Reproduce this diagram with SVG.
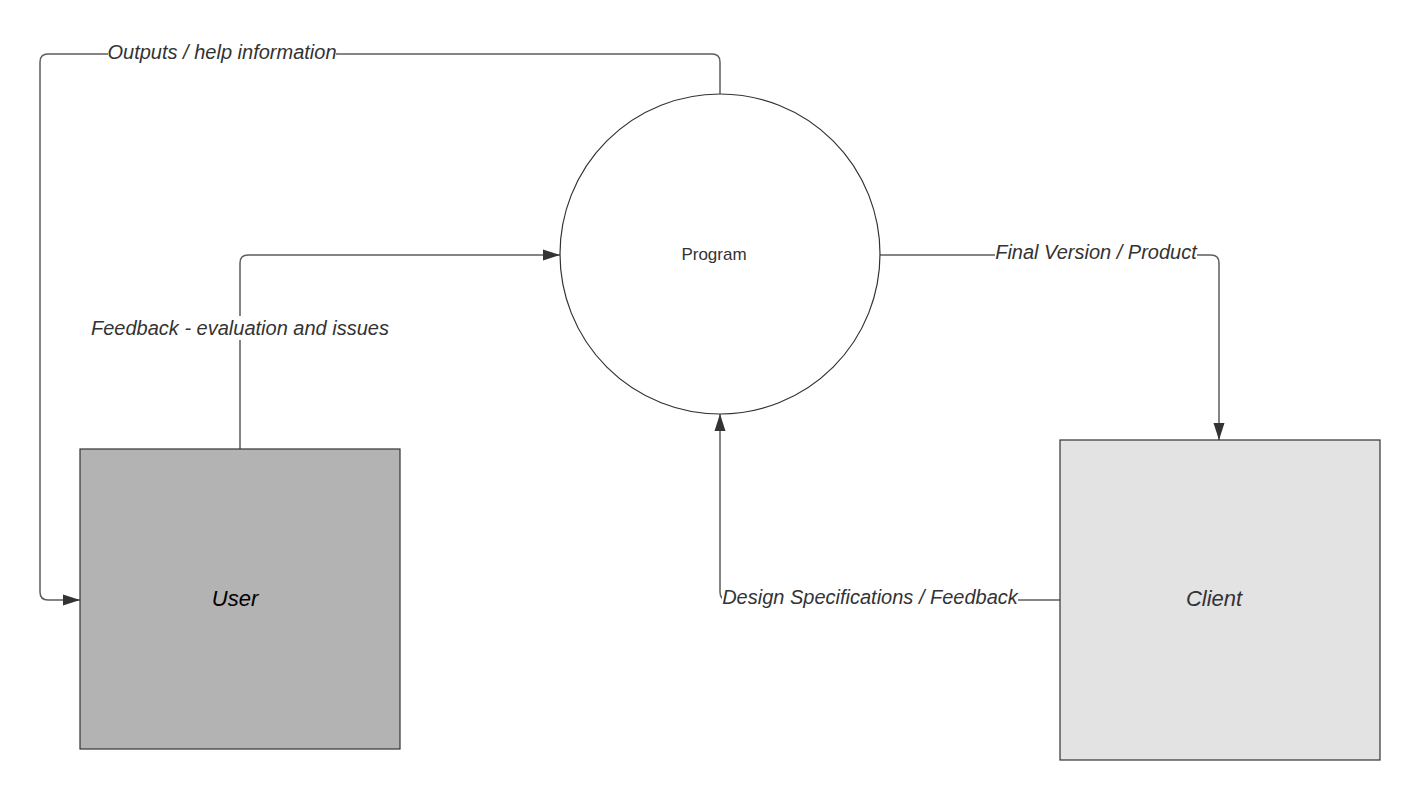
<svg xmlns="http://www.w3.org/2000/svg" width="1416" height="799" viewBox="0 0 1416 799">
<defs>
<marker id="arr" markerWidth="18" markerHeight="12" refX="17" refY="6" orient="auto" markerUnits="userSpaceOnUse">
<path d="M0,0.5 L17,6 L0,11.5 Z" fill="#333"/>
</marker>
<style>
.edge{fill:none;stroke:#5e5e5e;stroke-width:1.5}
.lbl{font-family:"Liberation Sans",Arial,sans-serif;font-size:20px;font-style:italic;fill:#333}
.lblbg{fill:#fff}
.node{stroke:#333;stroke-width:1.2}
</style>
</defs>
<rect width="1416" height="799" fill="#fff"/>
<g id="connectors">
<path class="edge" d="M720,94 V62 Q720,54 712,54 H48 Q40,54 40,62 V592 Q40,600 48,600 H80" marker-end="url(#arr)"/>
<path class="edge" d="M240,449 V263 Q240,255 248,255 H560" marker-end="url(#arr)"/>
<path class="edge" d="M880,255 H1211 Q1219,255 1219,263 V440" marker-end="url(#arr)"/>
<path class="edge" d="M1060,600 H728 Q720,600 720,592 V414" marker-end="url(#arr)"/>
<rect class="lblbg" x="108" y="40" width="228" height="24"/>
<text class="lbl" x="222" y="59" text-anchor="middle">Outputs / help information</text>
<rect class="lblbg" x="90" y="316" width="300" height="24"/>
<text class="lbl" x="240" y="335" text-anchor="middle">Feedback - evaluation and issues</text>
<rect class="lblbg" x="995" y="240" width="202" height="24"/>
<text class="lbl" x="1096" y="259" text-anchor="middle">Final Version / Product</text>
<rect class="lblbg" x="722" y="585" width="296" height="24"/>
<text class="lbl" x="870" y="604" text-anchor="middle">Design Specifications / Feedback</text>
</g>
<g id="program">
<circle class="node" cx="720" cy="254" r="160" fill="#fff"/>
<text x="714" y="260" text-anchor="middle" font-family="Liberation Sans,Arial,sans-serif" font-size="17" fill="#333">Program</text>
</g>
<g id="user">
<rect class="node" x="80" y="449" width="320" height="300" fill="#b3b3b3"/>
<text x="235" y="606" text-anchor="middle" font-family="Liberation Sans,Arial,sans-serif" font-size="22" font-style="italic" fill="#000">User</text>
</g>
<g id="client">
<rect class="node" x="1060" y="440" width="320" height="320" fill="#e3e3e3"/>
<text x="1214" y="606" text-anchor="middle" font-family="Liberation Sans,Arial,sans-serif" font-size="22" font-style="italic" fill="#333">Client</text>
</g>
</svg>
